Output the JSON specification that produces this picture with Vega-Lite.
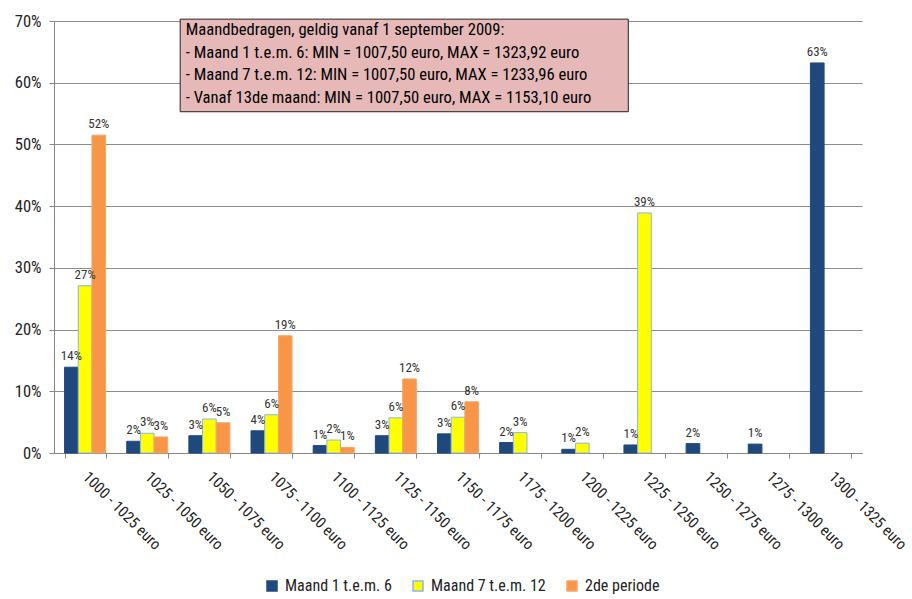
{
  "$schema": "https://vega.github.io/schema/vega-lite/v6.json",
  "width": 808,
  "height": 432,
  "autosize": {"type": "none"},
  "padding": {"left": 54, "top": 21, "right": 50, "bottom": 146},
  "background": "white",
  "config": {
    "font": "Liberation Sans Narrow, Arial Narrow, Roboto Condensed, Roboto, sans-serif",
    "view": {"stroke": null},
    "axis": {"labelFont": "Liberation Sans Narrow, Arial Narrow, Roboto Condensed, Roboto, sans-serif"},
    "legend": {"labelFont": "Liberation Sans Narrow, Arial Narrow, Roboto Condensed, Roboto, sans-serif"}
  },
  "data": {
    "values": [
      {"bereik": "1000 - 1025 euro", "reeks": "Maand 1 t.e.m. 6", "aandeel": 0.139},
      {"bereik": "1000 - 1025 euro", "reeks": "Maand 7 t.e.m. 12", "aandeel": 0.271},
      {"bereik": "1000 - 1025 euro", "reeks": "2de periode", "aandeel": 0.515},
      {"bereik": "1025 - 1050 euro", "reeks": "Maand 1 t.e.m. 6", "aandeel": 0.019},
      {"bereik": "1025 - 1050 euro", "reeks": "Maand 7 t.e.m. 12", "aandeel": 0.032},
      {"bereik": "1025 - 1050 euro", "reeks": "2de periode", "aandeel": 0.026},
      {"bereik": "1050 - 1075 euro", "reeks": "Maand 1 t.e.m. 6", "aandeel": 0.028},
      {"bereik": "1050 - 1075 euro", "reeks": "Maand 7 t.e.m. 12", "aandeel": 0.055},
      {"bereik": "1050 - 1075 euro", "reeks": "2de periode", "aandeel": 0.049},
      {"bereik": "1075 - 1100 euro", "reeks": "Maand 1 t.e.m. 6", "aandeel": 0.036},
      {"bereik": "1075 - 1100 euro", "reeks": "Maand 7 t.e.m. 12", "aandeel": 0.062},
      {"bereik": "1075 - 1100 euro", "reeks": "2de periode", "aandeel": 0.19},
      {"bereik": "1100 - 1125 euro", "reeks": "Maand 1 t.e.m. 6", "aandeel": 0.012},
      {"bereik": "1100 - 1125 euro", "reeks": "Maand 7 t.e.m. 12", "aandeel": 0.021},
      {"bereik": "1100 - 1125 euro", "reeks": "2de periode", "aandeel": 0.009},
      {"bereik": "1125 - 1150 euro", "reeks": "Maand 1 t.e.m. 6", "aandeel": 0.028},
      {"bereik": "1125 - 1150 euro", "reeks": "Maand 7 t.e.m. 12", "aandeel": 0.057},
      {"bereik": "1125 - 1150 euro", "reeks": "2de periode", "aandeel": 0.12},
      {"bereik": "1150 - 1175 euro", "reeks": "Maand 1 t.e.m. 6", "aandeel": 0.031},
      {"bereik": "1150 - 1175 euro", "reeks": "Maand 7 t.e.m. 12", "aandeel": 0.058},
      {"bereik": "1150 - 1175 euro", "reeks": "2de periode", "aandeel": 0.083},
      {"bereik": "1175 - 1200 euro", "reeks": "Maand 1 t.e.m. 6", "aandeel": 0.017},
      {"bereik": "1175 - 1200 euro", "reeks": "Maand 7 t.e.m. 12", "aandeel": 0.033},
      {"bereik": "1200 - 1225 euro", "reeks": "Maand 1 t.e.m. 6", "aandeel": 0.006},
      {"bereik": "1200 - 1225 euro", "reeks": "Maand 7 t.e.m. 12", "aandeel": 0.016},
      {"bereik": "1225 - 1250 euro", "reeks": "Maand 1 t.e.m. 6", "aandeel": 0.013},
      {"bereik": "1225 - 1250 euro", "reeks": "Maand 7 t.e.m. 12", "aandeel": 0.389},
      {"bereik": "1250 - 1275 euro", "reeks": "Maand 1 t.e.m. 6", "aandeel": 0.0152},
      {"bereik": "1275 - 1300 euro", "reeks": "Maand 1 t.e.m. 6", "aandeel": 0.0144},
      {"bereik": "1300 - 1325 euro", "reeks": "Maand 1 t.e.m. 6", "aandeel": 0.632}
    ]
  },
  "layer": [
    {
      "encoding": {
        "x": {
          "field": "bereik",
          "type": "nominal",
          "sort": null,
          "scale": {"paddingInner": 0.34, "paddingOuter": 0.17},
          "axis": {
            "title": null,
            "labelAngle": 45,
            "labelAlign": "left",
            "labelBaseline": "middle",
            "labelPadding": 16,
            "labelFontSize": 15.5,
            "labelColor": "#222222",
            "tickBand": "extent",
            "tickSize": 5,
            "tickColor": "#868686",
            "domainColor": "#868686",
            "grid": false
          }
        },
        "xOffset": {
          "field": "reeks",
          "type": "nominal",
          "sort": ["Maand 1 t.e.m. 6", "Maand 7 t.e.m. 12", "2de periode"],
          "scale": {"domain": ["Maand 1 t.e.m. 6", "Maand 7 t.e.m. 12", "2de periode"], "paddingInner": 0, "paddingOuter": 0}
        },
        "y": {
          "field": "aandeel",
          "type": "quantitative",
          "scale": {"domain": [0, 0.7], "nice": false},
          "axis": {
            "title": null,
            "format": ".0%",
            "values": [0, 0.1, 0.2, 0.3, 0.4, 0.5, 0.6, 0.7],
            "labelFontSize": 16.5,
            "labelColor": "#222222",
            "labelPadding": 8,
            "tickSize": 5,
            "tickColor": "#868686",
            "domainColor": "#868686",
            "gridColor": "#8c8c8c",
            "gridWidth": 1
          }
        }
      },
      "layer": [
        {
          "mark": {"type": "bar", "strokeWidth": 1},
          "encoding": {
            "color": {
              "field": "reeks",
              "type": "nominal",
              "sort": ["Maand 1 t.e.m. 6", "Maand 7 t.e.m. 12", "2de periode"],
              "scale": {"domain": ["Maand 1 t.e.m. 6", "Maand 7 t.e.m. 12", "2de periode"], "range": ["#1f497d", "#ffff00", "#f79646"]},
              "legend": {
                "title": null,
                "orient": "none",
                "direction": "horizontal",
                "legendX": 210,
                "legendY": 557,
                "symbolType": "square",
                "symbolSize": 100,
                "labelFontSize": 16,
                "labelColor": "#222222",
                "labelOffset": 5,
                "columnPadding": 18
              }
            },
            "stroke": {
              "field": "reeks",
              "type": "nominal",
              "sort": ["Maand 1 t.e.m. 6", "Maand 7 t.e.m. 12", "2de periode"],
              "scale": {"domain": ["Maand 1 t.e.m. 6", "Maand 7 t.e.m. 12", "2de periode"], "range": ["#1f497d", "#8eb4e3", "#f9a46a"]},
              "legend": null
            }
          }
        },
        {
          "mark": {"type": "text", "baseline": "bottom", "dy": -4, "fontSize": 13, "color": "#333333"},
          "encoding": {
            "text": {"field": "aandeel", "type": "quantitative", "format": ".0%"}
          }
        }
      ]
    },
    {
      "data": {"values": [{}]},
      "mark": {"type": "rect", "fill": "#e6b9b8", "stroke": "#222222", "strokeWidth": 1},
      "encoding": {
        "x": {"datum": 2.03, "type": "quantitative", "scale": {"domain": [0, 13], "nice": false, "zero": true}, "axis": null},
        "x2": {"datum": 9.24},
        "y": {"datum": 0.703, "type": "quantitative"},
        "y2": {"datum": 0.553}
      }
    },
    {
      "data": {"values": [{}]},
      "mark": {
        "type": "text",
        "align": "left",
        "baseline": "top",
        "fontSize": 16.6,
        "lineHeight": 22.5,
        "color": "#000000",
        "text": [
          "Maandbedragen, geldig vanaf 1 september 2009:",
          "- Maand 1 t.e.m. 6: MIN = 1007,50 euro, MAX = 1323,92 euro",
          "- Maand 7 t.e.m. 12: MIN = 1007,50 euro, MAX = 1233,96 euro",
          "- Vanaf 13de maand: MIN = 1007,50 euro, MAX = 1153,10 euro"
        ]
      },
      "encoding": {
        "x": {"datum": 2.12, "type": "quantitative", "scale": {"domain": [0, 13], "nice": false, "zero": true}, "axis": null},
        "y": {"datum": 0.698, "type": "quantitative"}
      }
    }
  ],
  "resolve": {"scale": {"x": "independent"}}
}
